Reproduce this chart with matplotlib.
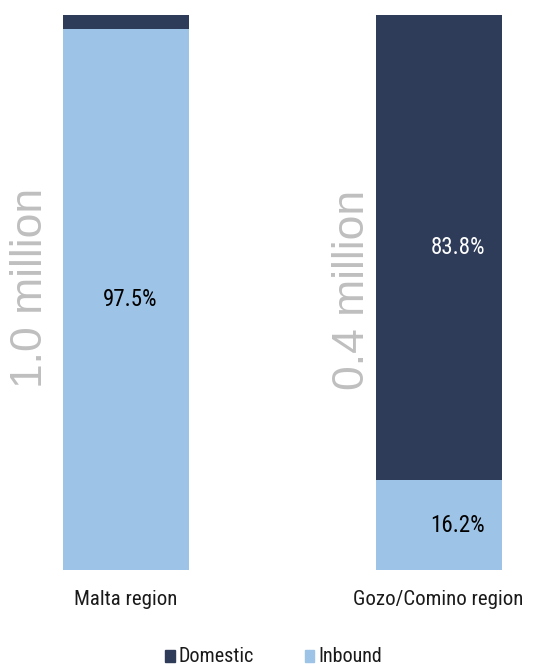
import matplotlib
matplotlib.use("Agg")
import matplotlib.pyplot as plt
from matplotlib import font_manager

categories = ["Malta region", "Gozo/Comino region"]
totals = ["1.0 million", "0.4 million"]
inbound = [97.5, 16.2]
domestic = [2.5, 83.8]
series_names = ["Domestic", "Inbound"]

C_DOM = "#2E3C59"
C_IN = "#9DC3E6"
C_GRAY = "#BFBFBF"

names = {f.name for f in font_manager.fontManager.ttflist}
cands = ["Liberation Sans Narrow", "Arial Narrow", "Roboto Condensed"]
found = [c for c in cands if c in names]
NARROW = (found[:1] + ["Liberation Sans"]) if found else ["Liberation Sans"]

W, H = 547, 664
fig = plt.figure(figsize=(W / 100, H / 100), dpi=100)

spacing = 312.5
ax = fig.add_axes([0, (H - 570) / H, 1, 555 / H])
ax.set_xlim(-126 / spacing, (W - 126) / spacing)
ax.set_ylim(0, 100)
ax.axis("off")

x = list(range(len(categories)))
bw = 126 / spacing
ax.bar(x, inbound, width=bw, color=C_IN, edgecolor="none")
ax.bar(x, domestic, width=bw, bottom=inbound, color=C_DOM, edgecolor="none")

offs = [4 / spacing, 19.5 / spacing]
for i in x:
    ax.text(i + offs[i], inbound[i] / 2, f"{inbound[i]:.1f}%", ha="center", va="center",
            fontsize=16.5, family=NARROW, color="black")
    if domestic[i] > 10:
        ax.text(i + offs[i], inbound[i] + domestic[i] / 2, f"{domestic[i]:.1f}%", ha="center",
                va="center", fontsize=16.5, family=NARROW, color="white")

for i in x:
    ax.text(i, -35 / 555, categories[i], transform=ax.get_xaxis_transform(), ha="center",
            va="baseline", fontsize=15, family=NARROW, color="#1A1A1A")

tot_pos = [(42, 287.5), (364, 290)]
for (px, py), t in zip(tot_pos, totals):
    fig.text(px / W, 1 - py / H, t, rotation=90, rotation_mode="anchor", ha="center",
             va="baseline", fontsize=32, family=["Liberation Sans"], color=C_GRAY)

leg = [(165, 178, C_DOM), (305, 318, C_IN)]
for (sx, tx, c), name in zip(leg, series_names):
    fig.patches.append(plt.Rectangle((sx / W, 1 - 662 / H), 9.5 / W, 12 / H, transform=fig.transFigure,
                                     color=c, figure=fig))
    fig.text(tx / W, 1 - 661.5 / H, name, ha="left", va="baseline", fontsize=14.5, family=NARROW,
             color="#1A1A1A")

fig.savefig("out.png", dpi=100)
